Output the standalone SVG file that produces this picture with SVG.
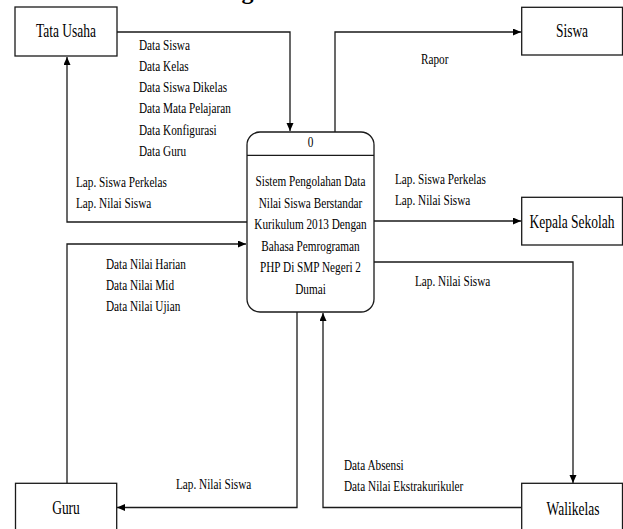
<svg xmlns="http://www.w3.org/2000/svg" width="623" height="529" viewBox="0 0 623 529">
<style>
  .ent { fill: #fff; stroke: #1a1a1a; stroke-width: 1.3; }
  .proc { fill: #fff; stroke: #1a1a1a; stroke-width: 1.3; }
  .flow { fill: none; stroke: #1a1a1a; stroke-width: 1.3; marker-end: url(#arr); }
  text { font-family: 'Liberation Serif', 'DejaVu Serif', serif; fill: #000; }
  .et { font-size: 18px; text-anchor: middle; }
  .lb { font-size: 15px; }
  .pt { font-size: 15px; text-anchor: middle; }
  .title { font-size: 24px; font-weight: bold; text-anchor: middle; }
</style>
<defs>
  <marker id="arr" markerUnits="userSpaceOnUse" markerWidth="9" markerHeight="8" refX="8" refY="3.5" orient="auto">
    <path d="M0,0 L8,3.5 L0,7 z" fill="#000"/>
  </marker>
</defs>
<rect width="623" height="529" fill="#fff"/>
<text class="title" x="247.5" y="-1" font-family="Liberation Serif, serif">g</text>

<g id="connectors">
  <path class="flow" d="M117,32 H290 V131"/>
  <path class="flow" d="M335,132 V32 H521"/>
  <path class="flow" d="M247,222 H67 V57"/>
  <path class="flow" d="M67,483 V244 H246"/>
  <path class="flow" d="M374,221 H521"/>
  <path class="flow" d="M374,262 H573 V483"/>
  <path class="flow" d="M521,507.5 H323 V313"/>
  <path class="flow" d="M297,312 V507.5 H117"/>
  <g id="labels" font-family="Liberation Serif, serif">
    <text class="lb" transform="translate(139,49.5) scale(0.75,1)">Data Siswa</text>
    <text class="lb" transform="translate(139,70.8) scale(0.75,1)">Data Kelas</text>
    <text class="lb" transform="translate(139,92.1) scale(0.75,1)">Data Siswa Dikelas</text>
    <text class="lb" transform="translate(139,113.4) scale(0.75,1)">Data Mata Pelajaran</text>
    <text class="lb" transform="translate(139,134.7) scale(0.75,1)">Data Konfigurasi</text>
    <text class="lb" transform="translate(139,156) scale(0.75,1)">Data Guru</text>
    <text class="lb" transform="translate(421,64) scale(0.75,1)">Rapor</text>
    <text class="lb" transform="translate(76,187) scale(0.75,1)">Lap. Siswa Perkelas</text>
    <text class="lb" transform="translate(76,208.3) scale(0.75,1)">Lap. Nilai Siswa</text>
    <text class="lb" transform="translate(395,183.5) scale(0.75,1)">Lap. Siswa Perkelas</text>
    <text class="lb" transform="translate(395,205) scale(0.75,1)">Lap. Nilai Siswa</text>
    <text class="lb" transform="translate(106,269) scale(0.75,1)">Data Nilai Harian</text>
    <text class="lb" transform="translate(106,290) scale(0.75,1)">Data Nilai Mid</text>
    <text class="lb" transform="translate(106,311) scale(0.75,1)">Data Nilai Ujian</text>
    <text class="lb" transform="translate(415,286) scale(0.75,1)">Lap. Nilai Siswa</text>
    <text class="lb" transform="translate(344,470) scale(0.75,1)">Data Absensi</text>
    <text class="lb" transform="translate(344,491) scale(0.75,1)">Data Nilai Ekstrakurikuler</text>
    <text class="lb" transform="translate(176,489) scale(0.75,1)">Lap. Nilai Siswa</text>
  </g>
</g>

<g id="tata-usaha" font-family="Liberation Serif, serif">
  <rect class="ent" x="15" y="7" width="102" height="49"/>
  <text class="et" transform="translate(66,37.3) scale(0.75,1)">Tata Usaha</text>
</g>
<g id="siswa" font-family="Liberation Serif, serif">
  <rect class="ent" x="521.7" y="7.3" width="100.8" height="47.7"/>
  <text class="et" transform="translate(572,37.3) scale(0.75,1)">Siswa</text>
</g>
<g id="kepala-sekolah" font-family="Liberation Serif, serif">
  <rect class="ent" x="521.7" y="197.3" width="100.8" height="47.7"/>
  <text class="et" transform="translate(572,227.5) scale(0.75,1)">Kepala Sekolah</text>
</g>
<g id="guru" font-family="Liberation Serif, serif">
  <rect class="ent" x="15.5" y="483.3" width="101.2" height="55"/>
  <text class="et" transform="translate(66,514) scale(0.75,1)">Guru</text>
</g>
<g id="walikelas" font-family="Liberation Serif, serif">
  <rect class="ent" x="521.7" y="483.3" width="100.8" height="55"/>
  <text class="et" transform="translate(573,515) scale(0.75,1)">Walikelas</text>
</g>
<g id="process-0" font-family="Liberation Serif, serif">
  <rect class="proc" x="247" y="132" width="127" height="180" rx="13" ry="13"/>
  <line x1="247" y1="155.3" x2="374" y2="155.3" stroke="#1a1a1a" stroke-width="1.3"/>
  <text class="pt" transform="translate(310.5,147) scale(0.75,1)">0</text>
  <text class="pt" transform="translate(310.5,186) scale(0.75,1)">Sistem Pengolahan Data</text>
  <text class="pt" transform="translate(310.5,207.5) scale(0.75,1)">Nilai Siswa Berstandar</text>
  <text class="pt" transform="translate(310.5,229) scale(0.75,1)">Kurikulum 2013 Dengan</text>
  <text class="pt" transform="translate(310.5,250.5) scale(0.75,1)">Bahasa Pemrograman</text>
  <text class="pt" transform="translate(310.5,272) scale(0.75,1)">PHP Di SMP Negeri 2</text>
  <text class="pt" transform="translate(310.5,293.5) scale(0.75,1)">Dumai</text>
</g>
</svg>
